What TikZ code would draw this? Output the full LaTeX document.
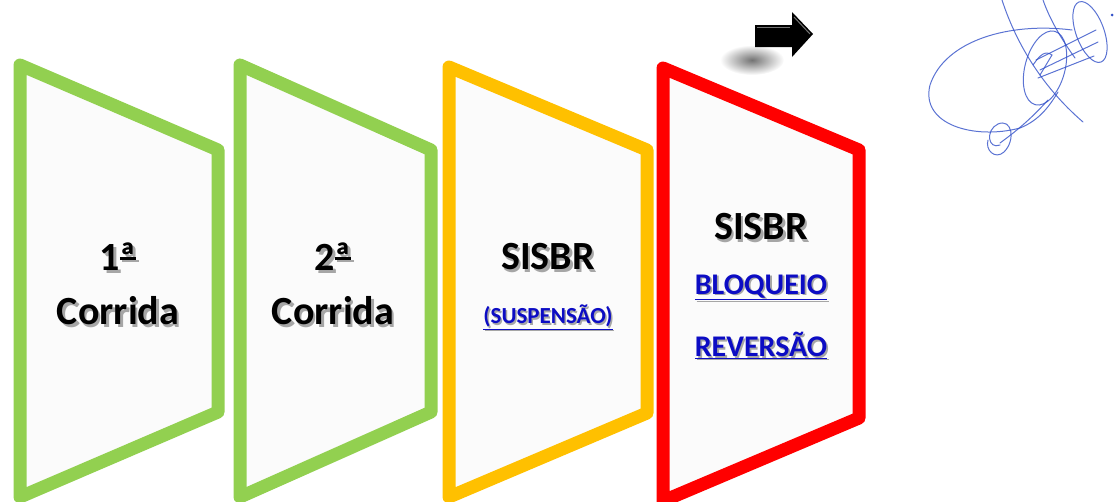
\documentclass[tikz,border=0pt]{standalone}
\usepackage{fontspec}
\setmainfont{Carlito}
\usetikzlibrary{calc}
\definecolor{pgreen}{RGB}{146,208,80}
\definecolor{pyellow}{RGB}{255,192,0}
\definecolor{pred}{RGB}{255,0,0}
\definecolor{plink}{RGB}{12,12,196}
\definecolor{psig}{RGB}{50,80,200}
\newcommand\shtxt[2]{\rlap{\kern#1\raisebox{-#1}{\color{black!35}#2}}#2}
\newcommand\ordbar{\setbox0=\hbox{ª}\rlap{\copy0}\rule[0.27em]{\wd0}{0.07em}}
\tikzset{
  panel/.style={line width=13pt, line join=round, fill=black!1.5},
  bigtxt/.style={font=\fontsize{40}{48}\selectfont\bfseries, text=black, inner sep=0pt},
  linktxt/.style={font=\fontsize{23}{28}\selectfont\bfseries, text=plink, inner sep=0pt},
  linkbig/.style={font=\fontsize{30}{36}\selectfont\bfseries, text=plink, inner sep=0pt},
  sig/.style={draw=psig, line width=1pt, line cap=round, opacity=0.8},
}
\begin{document}
\begin{tikzpicture}[x=1pt,y=-1pt]
\useasboundingbox (0,0) rectangle (1119,501);
\begin{scope}
\clip (0,0) rectangle (1119,501);
% panels
\draw[panel, draw=pgreen] (20,65) -- (218,150) -- (218,412) -- (20,497) -- cycle;
\draw[panel, draw=pgreen] (240,65) -- (431,150) -- (431,412) -- (240,497) -- cycle;
\draw[panel, draw=pyellow] (449,67) -- (647,150) -- (647,413) -- (449,497) -- cycle;
\draw[panel, draw=pred] (663,68) -- (859,150) -- (859,418) -- (663,501) -- cycle;
\end{scope}
% panel 1 texts
\node[bigtxt] (p1a) at (118,258) {\shtxt{2.5pt}{1\ordbar}};
\node[bigtxt] (p1b) at (118,312) {\shtxt{2.5pt}{Corrida}};
% panel 2 texts
\node[bigtxt] (p2a) at (333,258) {\shtxt{2.5pt}{2\ordbar}};
\node[bigtxt] (p2b) at (333,312) {\shtxt{2.5pt}{Corrida}};
% panel 3 texts
\node[bigtxt] (p3a) at (548,258) {\shtxt{2.5pt}{SISBR}};
\node[linktxt] (p3b) at (548,318) {\shtxt{1.5pt}{\underline{(SUSPENSÃO)}}};
% panel 4 texts
\node[bigtxt] (p4a) at (761,228) {\shtxt{2.5pt}{SISBR}};
\node[linkbig] (p4b) at (761,288) {\shtxt{1.8pt}{\underline{BLOQUEIO}}};
\node[linkbig] (p4c) at (761,346) {\shtxt{1.8pt}{\underline{REVERSÃO}}};
% arrow shadow
\shade[inner color=black!55, outer color=white] (752,60) ellipse (32 and 15);
% arrow
\fill[black] (755,25) -- (792,25) -- (792,12) -- (813,34) -- (792,57) -- (792,47) -- (755,47) -- cycle;
\draw[black!55, line width=1pt] (757,27) -- (790,27);
\draw[black!55, line width=1pt] (794,17) -- (810,34);
% signature
\draw[sig] (1072,30) .. controls (1010,22) and (945,40) .. (930,85) .. controls (920,125) and (975,140) .. (1020,128) .. controls (1040,120) and (1050,105) .. (1058,92);
\draw[sig] (1002,0) .. controls (1015,40) and (1040,85) .. (1083,122);
\draw[sig] (1043,0) .. controls (1050,20) and (1062,40) .. (1075,58);
\draw[sig, rotate around={-15:(1045,68)}] (1045,68) ellipse (20 and 38);
\draw[sig, rotate around={20:(1090,32)}] (1090,32) ellipse (14 and 32);
\draw[sig] (1000,145) .. controls (988,150) and (985,130) .. (998,124) .. controls (1012,118) and (1016,140) .. (1004,152) .. controls (995,160) and (985,150) .. (988,140);
\draw[sig] (1000,143) .. controls (1015,132) and (1030,120) .. (1048,100);
\draw[sig] (1036,60) -- (1096,30);
\draw[sig] (1040,70) -- (1098,42);
\draw[sig] (1038,78) -- (1094,56);
\draw[sig] (1033,65) .. controls (1040,55) and (1045,50) .. (1052,55) -- (1040,75);
\fill[psig] (1112,15) circle (1.5);
\end{tikzpicture}
\end{document}
